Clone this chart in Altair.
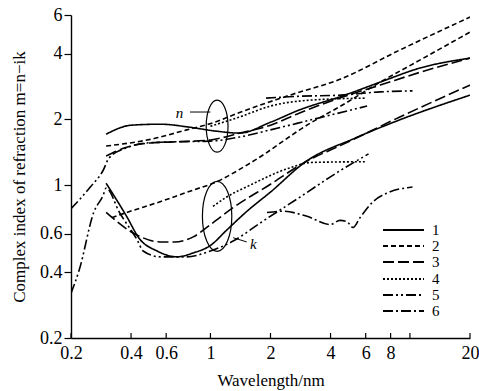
import altair as alt
import pandas as pd

curves = ["1", "2", "3", "4", "5", "6"]

c1n_x = [0.3, 0.4, 0.56, 0.79, 1.05, 1.4, 2.0, 2.8, 4.6, 7.1, 11.2, 20]
c1n_y = [1.71, 1.88, 1.90, 1.84, 1.77, 1.73, 1.94, 2.21, 2.56, 2.96, 3.43, 3.81]
c1k_x = [0.3, 0.38, 0.44, 0.54, 0.68, 0.82, 1.0, 1.2, 1.5, 2.0, 3.0, 5.3, 8.9, 20]
c1k_y = [1.02, 0.72, 0.57, 0.50, 0.47, 0.49, 0.53, 0.62, 0.75, 0.93, 1.28, 1.64, 1.99, 2.58]

c2n_x = [0.3, 0.5, 0.76, 1.05, 1.4, 2.5, 4.5, 8.9, 20]
c2n_y = [1.51, 1.62, 1.79, 1.94, 2.15, 2.58, 3.06, 4.15, 5.87]
c2k_x = [0.32, 0.38, 0.56, 0.82, 1.03, 1.58, 3.16, 4.5, 7.1, 11.2, 20]
c2k_y = [0.71, 0.75, 0.84, 0.95, 1.02, 1.26, 1.92, 2.30, 2.96, 3.73, 5.01]

c3n_x = [0.3, 0.38, 0.5, 0.7, 1.0, 1.4, 2.0, 2.8, 4.6, 7.1, 11.2, 20]
c3n_y = [1.36, 1.49, 1.56, 1.58, 1.61, 1.73, 1.88, 2.14, 2.53, 2.87, 3.28, 3.81]
c3k_x = [0.3, 0.43, 0.56, 0.66, 0.82, 1.0, 1.3, 2.0, 3.0, 4.5, 8.9, 20]
c3k_y = [0.75, 0.59, 0.55, 0.55, 0.58, 0.66, 0.79, 1.01, 1.28, 1.52, 2.05, 2.87]

c4n_x = [1.0, 1.4, 2.0, 3.2, 6.0]
c4n_y = [1.86, 2.05, 2.30, 2.45, 2.50]
c4k_x = [1.03, 1.2, 1.58, 2.5, 3.2, 6.0]
c4k_y = [0.80, 0.88, 1.00, 1.20, 1.27, 1.28]

c5n_x = [0.2, 0.25, 0.29, 0.31, 0.38, 0.48, 0.68, 1.0, 1.4, 2.0, 3.2, 6.1]
c5n_y = [0.78, 0.98, 1.17, 1.33, 1.48, 1.56, 1.58, 1.59, 1.66, 1.79, 1.99, 2.30]
c5k_x = [0.2, 0.22, 0.26, 0.29, 0.3, 0.35, 0.43, 0.46, 0.56, 0.76, 1.0, 1.3, 1.77, 2.8, 4.5, 6.2]
c5k_y = [0.32, 0.41, 0.75, 0.90, 0.97, 0.75, 0.56, 0.50, 0.47, 0.47, 0.50, 0.555, 0.67, 0.88, 1.17, 1.39]

c6n_x = [1.9, 2.8, 4.5, 7.1, 10.3]
c6n_y = [2.50, 2.55, 2.58, 2.67, 2.70]
c6k_x = [1.92, 2.3, 3.05, 3.98, 4.46, 4.84, 5.18, 5.62, 6.53, 7.67, 10.3]
c6k_y = [0.75, 0.76, 0.72, 0.66, 0.69, 0.68, 0.64, 0.71, 0.84, 0.92, 0.98]

x_ticks = [0.2, 0.4, 0.6, 1, 2, 4, 6, 8, 10, 20]
y_ticks = [0.2, 0.4, 0.6, 1, 2, 4, 6]

# annotation: ellipse centres and labels
ell_x = [1.08, 1.08]
ell_y = [1.86, 0.72]
lab_text = ["n", "k"]
lab_x = [0.70, 1.64]
lab_y = [2.14, 0.54]
ptr_x1 = [0.79, 1.30]
ptr_x2 = [1.00, 1.52]
ptr_y1 = [2.16, 0.575]
ptr_y2 = [2.16, 0.55]

# legend layout (pixel rows inside the plot area)
leg_row_px = [215, 231, 247, 264, 280, 296]

series = [
    ("1", "n", c1n_x, c1n_y), ("1", "k", c1k_x, c1k_y),
    ("2", "n", c2n_x, c2n_y), ("2", "k", c2k_x, c2k_y),
    ("3", "n", c3n_x, c3n_y), ("3", "k", c3k_x, c3k_y),
    ("4", "n", c4n_x, c4n_y), ("4", "k", c4k_x, c4k_y),
    ("5", "n", c5n_x, c5n_y), ("5", "k", c5k_x, c5k_y),
    ("6", "n", c6n_x, c6n_y), ("6", "k", c6k_x, c6k_y),
]
rows = []
for c, part, xs, ys in series:
    for x, y in zip(xs, ys):
        rows.append({"curve": c, "part": part, "wl": x, "v": y})
df = pd.DataFrame(rows)

FONT = "Liberation Serif"
xscale = alt.Scale(type="log", domain=[0.2, 20], nice=False)
yscale = alt.Scale(type="log", domain=[0.2, 6], nice=False)
dash_range = [[1, 0], [5, 3], [11, 4], [2, 2], [10, 3, 2, 3, 2, 3], [10, 3, 2, 3]]
dash_scale = alt.Scale(domain=curves, range=dash_range)

lines = alt.Chart(df).mark_line(
    color="black", strokeWidth=1.6, interpolate="monotone", clip=True
).encode(
    x=alt.X("wl:Q", scale=xscale, axis=alt.Axis(
        values=x_ticks, format="~g", labelFlush=False,
        labelExpr="datum.value == 10 ? '' : datum.label",
        tickSize=0, labelPadding=6, title="Wavelength/nm", titlePadding=10,
        grid=False)),
    y=alt.Y("v:Q", scale=yscale, axis=alt.Axis(
        values=y_ticks, format="~g", tickSize=7, labelPadding=2, labelFlush=False,
        title="Complex index of refraction m=n−ik", titlePadding=11,
        grid=False)),
    strokeDash=alt.StrokeDash("curve:N", scale=dash_scale, legend=None),
    detail="part:N",
    order="wl:Q",
)

tick_df = pd.DataFrame({"t": x_ticks})
xt = alt.Chart(tick_df).mark_rule(color="black", strokeWidth=1.2).encode(
    x=alt.X("t:Q", scale=xscale), y=alt.value(323), y2=alt.value(318)
)

ell_df = pd.DataFrame({"x": ell_x, "y": ell_y, "s": [2704, 4900]})
ell = alt.Chart(ell_df).mark_point(
    shape="M 0 -1 A 0.42 1 0 1 1 0 1 A 0.42 1 0 1 1 0 -1 Z",
    filled=False, color="black", strokeWidth=1.2, opacity=1
).encode(
    x=alt.X("x:Q", scale=xscale), y=alt.Y("y:Q", scale=yscale),
    size=alt.Size("s:Q", scale=None, legend=None)
)

lab_df = pd.DataFrame({"t": lab_text, "x": lab_x, "y": lab_y})
labs = alt.Chart(lab_df).mark_text(
    font=FONT, fontStyle="italic", fontSize=15, color="black"
).encode(x=alt.X("x:Q", scale=xscale), y=alt.Y("y:Q", scale=yscale), text="t:N")

ptr_df = pd.DataFrame({"x1": ptr_x1, "x2": ptr_x2, "y1": ptr_y1, "y2": ptr_y2})
ptr = alt.Chart(ptr_df).mark_rule(color="black", strokeWidth=1).encode(
    x=alt.X("x1:Q", scale=xscale), x2="x2:Q",
    y=alt.Y("y1:Q", scale=yscale), y2="y2:Q"
)

leg_df = pd.DataFrame({"curve": curves, "ly": leg_row_px})
leg_lines = alt.Chart(leg_df).mark_rule(color="black", strokeWidth=1.8).encode(
    x=alt.value(312), x2=alt.value(353),
    y=alt.Y("ly:Q", scale=None, axis=None),
    strokeDash=alt.StrokeDash("curve:N", scale=dash_scale, legend=None),
)
leg_text = alt.Chart(leg_df).mark_text(
    font=FONT, fontSize=15, color="black", align="left", baseline="middle"
).encode(
    x=alt.value(361),
    y=alt.Y("ly:Q", scale=None, axis=None),
    text="curve:N",
)

chart = alt.layer(lines, xt, ell, labs, ptr, leg_lines, leg_text).properties(
    width=399, height=323,
    autosize=alt.AutoSizeParams(type="none"),
    padding={"left": 71, "top": 15, "right": 9, "bottom": 53},
).configure_view(stroke=None).configure_axis(
    labelFont=FONT, titleFont=FONT, labelFontSize=18, titleFontSize=17,
    labelColor="black", titleColor="black", titleFontWeight="normal",
    domainColor="black", domainWidth=1.4, tickColor="black", tickWidth=1.2
)

chart.save("out.html", embed_options={"renderer": "svg", "actions": False})
